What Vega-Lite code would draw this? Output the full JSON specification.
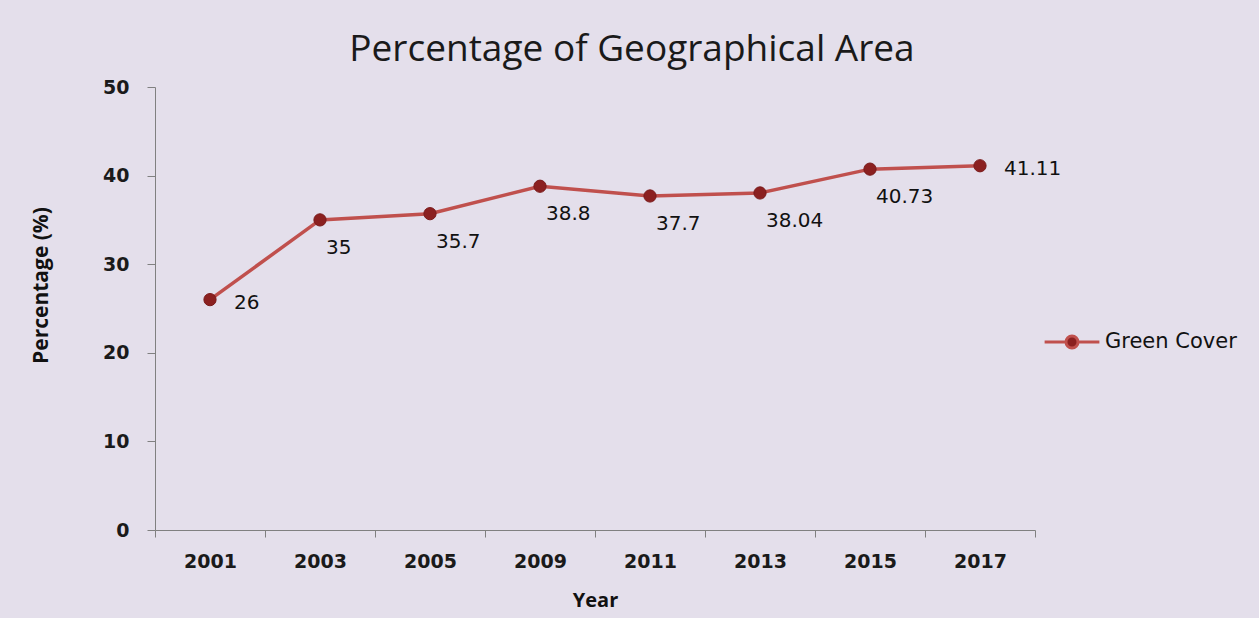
{
  "$schema": "https://vega.github.io/schema/vega-lite/v6.json",
  "autosize": {"type": "none"},
  "width": 880,
  "height": 443,
  "padding": {"left": 155, "top": 87, "right": 224, "bottom": 88},
  "background": "#e4dfeb",
  "title": {
    "text": "Percentage of Geographical Area",
    "font": "Open Sans",
    "fontSize": 37,
    "fontWeight": "normal",
    "color": "#1a1a1a",
    "anchor": "middle",
    "dx": 37,
    "offset": 9
  },
  "data": {
    "values": [
      {"Year": "2001", "Value": 26},
      {"Year": "2003", "Value": 35},
      {"Year": "2005", "Value": 35.7},
      {"Year": "2009", "Value": 38.8},
      {"Year": "2011", "Value": 37.7},
      {"Year": "2013", "Value": 38.04},
      {"Year": "2015", "Value": 40.73},
      {"Year": "2017", "Value": 41.11}
    ]
  },
  "encoding": {
    "x": {
      "field": "Year",
      "type": "ordinal",
      "scale": {"type": "band", "paddingInner": 0, "paddingOuter": 0},
      "axis": {
        "title": "Year",
        "titleFont": "Open Sans",
        "titleFontSize": 20,
        "titleFontWeight": "bold",
        "titleColor": "#111111",
        "titleY": 70,
        "titleBaseline": "middle",
        "labelAngle": 0,
        "labelFont": "DejaVu Sans",
        "labelFontSize": 19,
        "labelFontWeight": "bold",
        "labelColor": "#1a1a1a",
        "labelPadding": 15,
        "tickBand": "extent",
        "tickSize": 7,
        "tickColor": "#808080",
        "domainColor": "#808080",
        "grid": false
      }
    },
    "y": {
      "field": "Value",
      "type": "quantitative",
      "scale": {"domain": [0, 50]},
      "axis": {
        "title": "Percentage (%)",
        "titleFont": "Open Sans",
        "titleFontSize": 21,
        "titleFontWeight": "bold",
        "titleColor": "#111111",
        "titleX": -114,
        "titleY": 198,
        "titleAngle": -90,
        "titleBaseline": "middle",
        "titleAlign": "center",
        "values": [0, 10, 20, 30, 40, 50],
        "labelFont": "DejaVu Sans",
        "labelFontSize": 19,
        "labelFontWeight": "bold",
        "labelColor": "#1a1a1a",
        "labelPadding": 18,
        "tickSize": 8,
        "tickColor": "#808080",
        "domainColor": "#808080",
        "grid": false
      }
    }
  },
  "layer": [
    {
      "mark": {"type": "line", "strokeWidth": 3.5},
      "encoding": {
        "color": {
          "datum": "Green Cover",
          "type": "nominal",
          "scale": {"range": ["#c0504d"]},
          "legend": {
            "title": null,
            "orient": "none",
            "legendX": 888,
            "legendY": 226,
            "symbolType": "M-1,0H-0.22M0.22,0H1M-0.22,0A0.22,0.22 0 1,1 0.22,0A0.22,0.22 0 1,1 -0.22,0Z",
            "symbolSize": 3000,
            "symbolStrokeWidth": 3,
            "symbolFillColor": "#8b2020",
            "symbolStrokeColor": "#c0504d",
            "labelFont": "DejaVu Sans",
            "labelFontSize": 21,
            "labelColor": "#111111",
            "labelOffset": 4
          }
        }
      }
    },
    {
      "mark": {"type": "point", "filled": true, "size": 150, "color": "#8b2020", "opacity": 1, "stroke": "#7a1a1a", "strokeWidth": 1},
      "encoding": {}
    },
    {
      "transform": [{"filter": "datum.Year == '2001' || datum.Year == '2017'"}],
      "mark": {"type": "text", "align": "left", "baseline": "middle", "dx": 24, "dy": 3, "font": "DejaVu Sans", "fontSize": 20, "color": "#111111"},
      "encoding": {"text": {"field": "Value", "type": "quantitative"}}
    },
    {
      "transform": [{"filter": "datum.Year != '2001' && datum.Year != '2017'"}],
      "mark": {"type": "text", "align": "left", "baseline": "middle", "dx": 6, "dy": 28, "font": "DejaVu Sans", "fontSize": 20, "color": "#111111"},
      "encoding": {"text": {"field": "Value", "type": "quantitative"}}
    }
  ],
  "config": {
    "view": {"stroke": null}
  }
}
